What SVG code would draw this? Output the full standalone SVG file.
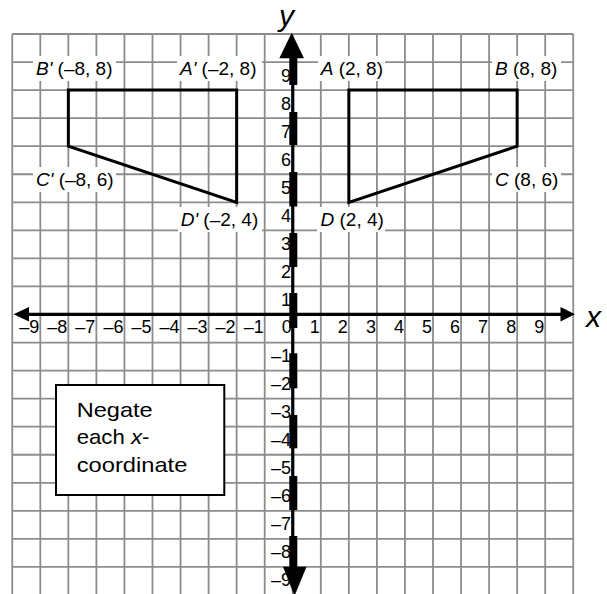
<svg xmlns="http://www.w3.org/2000/svg" width="607" height="594" viewBox="0 0 607 594">
<style>
.grid line{stroke:#8c8c8c;stroke-width:1.8}
.lbl{font-family:"Liberation Sans",Arial,sans-serif;font-size:19px;fill:#000}
.num{font-family:"Liberation Sans",Arial,sans-serif;font-size:18px;fill:#000}
.it{font-style:italic}
.bg{fill:#fff;stroke:none}
.shape{fill:none;stroke:#000;stroke-width:3;stroke-linejoin:miter}
.axis{stroke:#000;stroke-width:3.2}
.bar{fill:#000}
.ax{font-family:"Liberation Sans",Arial,sans-serif;font-size:30px;font-style:italic;fill:#000}
.box{font-family:"Liberation Sans",Arial,sans-serif;font-size:21px;fill:#000}
</style>
<rect width="607" height="594" fill="#fff"/>
<g id="grid" class="grid">
<line x1="12.25" y1="34" x2="12.25" y2="594"/>
<line x1="40.3" y1="34" x2="40.3" y2="594"/>
<line x1="68.35" y1="34" x2="68.35" y2="594"/>
<line x1="96.4" y1="34" x2="96.4" y2="594"/>
<line x1="124.45" y1="34" x2="124.45" y2="594"/>
<line x1="152.5" y1="34" x2="152.5" y2="594"/>
<line x1="180.55" y1="34" x2="180.55" y2="594"/>
<line x1="208.6" y1="34" x2="208.6" y2="594"/>
<line x1="236.65" y1="34" x2="236.65" y2="594"/>
<line x1="264.7" y1="34" x2="264.7" y2="594"/>
<line x1="292.75" y1="34" x2="292.75" y2="594"/>
<line x1="320.8" y1="34" x2="320.8" y2="594"/>
<line x1="348.85" y1="34" x2="348.85" y2="594"/>
<line x1="376.9" y1="34" x2="376.9" y2="594"/>
<line x1="404.95" y1="34" x2="404.95" y2="594"/>
<line x1="433" y1="34" x2="433" y2="594"/>
<line x1="461.05" y1="34" x2="461.05" y2="594"/>
<line x1="489.1" y1="34" x2="489.1" y2="594"/>
<line x1="517.15" y1="34" x2="517.15" y2="594"/>
<line x1="545.2" y1="34" x2="545.2" y2="594"/>
<line x1="573.25" y1="34" x2="573.25" y2="594"/>
<line x1="12.25" y1="34" x2="573.25" y2="34"/>
<line x1="12.25" y1="62.05" x2="573.25" y2="62.05"/>
<line x1="12.25" y1="90.1" x2="573.25" y2="90.1"/>
<line x1="12.25" y1="118.15" x2="573.25" y2="118.15"/>
<line x1="12.25" y1="146.2" x2="573.25" y2="146.2"/>
<line x1="12.25" y1="174.25" x2="573.25" y2="174.25"/>
<line x1="12.25" y1="202.3" x2="573.25" y2="202.3"/>
<line x1="12.25" y1="230.35" x2="573.25" y2="230.35"/>
<line x1="12.25" y1="258.4" x2="573.25" y2="258.4"/>
<line x1="12.25" y1="286.45" x2="573.25" y2="286.45"/>
<line x1="12.25" y1="342.55" x2="573.25" y2="342.55"/>
<line x1="12.25" y1="370.6" x2="573.25" y2="370.6"/>
<line x1="12.25" y1="398.65" x2="573.25" y2="398.65"/>
<line x1="12.25" y1="426.7" x2="573.25" y2="426.7"/>
<line x1="12.25" y1="454.75" x2="573.25" y2="454.75"/>
<line x1="12.25" y1="482.8" x2="573.25" y2="482.8"/>
<line x1="12.25" y1="510.85" x2="573.25" y2="510.85"/>
<line x1="12.25" y1="538.9" x2="573.25" y2="538.9"/>
<line x1="12.25" y1="566.95" x2="573.25" y2="566.95"/>
</g>
<g id="shape-image">
<polygon class="shape" points="68.35,90.1 236.65,90.1 236.65,202.3 68.35,146.2"/>
</g>
<g id="shape-original">
<polygon class="shape" points="348.85,90.1 517.15,90.1 517.15,146.2 348.85,202.3"/>
</g>
<g id="label-Bp"><rect class="bg" x="33" y="56" width="83" height="25"/><text class="lbl" x="36" y="75.3"><tspan class="it">B'</tspan> (–8, 8)</text></g>
<g id="label-Ap"><rect class="bg" x="177" y="56" width="85" height="25"/><text class="lbl" x="180" y="75.3"><tspan class="it">A'</tspan> (–2, 8)</text></g>
<g id="label-A"><rect class="bg" x="318" y="56" width="67" height="25"/><text class="lbl" x="320.7" y="75.3"><tspan class="it">A</tspan> (2, 8)</text></g>
<g id="label-B"><rect class="bg" x="492" y="56" width="69" height="25"/><text class="lbl" x="495" y="75.3"><tspan class="it">B</tspan> (8, 8)</text></g>
<g id="label-Cp"><rect class="bg" x="33" y="167" width="83" height="25"/><text class="lbl" x="36" y="186"><tspan class="it">C'</tspan> (–8, 6)</text></g>
<g id="label-C"><rect class="bg" x="492" y="167" width="69" height="25"/><text class="lbl" x="495" y="186"><tspan class="it">C</tspan> (8, 6)</text></g>
<g id="label-Dp"><rect class="bg" x="178" y="207" width="84" height="25"/><text class="lbl" x="180.7" y="226"><tspan class="it">D'</tspan> (–2, 4)</text></g>
<g id="label-D"><rect class="bg" x="317" y="207" width="68" height="25"/><text class="lbl" x="320.5" y="226"><tspan class="it">D</tspan> (2, 4)</text></g>
<g id="x-numbers" class="num" text-anchor="end">
<text x="39.3" y="333.3">–9</text>
<text x="67.35" y="333.3">–8</text>
<text x="95.4" y="333.3">–7</text>
<text x="123.45" y="333.3">–6</text>
<text x="151.5" y="333.3">–5</text>
<text x="179.55" y="333.3">–4</text>
<text x="207.6" y="333.3">–3</text>
<text x="235.65" y="333.3">–2</text>
<text x="263.7" y="333.3">–1</text>
<text x="291.75" y="333.3">0</text>
<text x="319.8" y="333.3">1</text>
<text x="347.85" y="333.3">2</text>
<text x="375.9" y="333.3">3</text>
<text x="403.95" y="333.3">4</text>
<text x="432" y="333.3">5</text>
<text x="460.05" y="333.3">6</text>
<text x="488.1" y="333.3">7</text>
<text x="516.15" y="333.3">8</text>
<text x="544.2" y="333.3">9</text>
</g>
<g id="y-numbers" class="num" text-anchor="end">
<text x="291" y="81.55">9</text>
<text x="291" y="109.6">8</text>
<text x="291" y="137.65">7</text>
<text x="291" y="165.7">6</text>
<text x="291" y="193.75">5</text>
<text x="291" y="221.8">4</text>
<text x="291" y="249.85">3</text>
<text x="291" y="277.9">2</text>
<text x="291" y="305.95">1</text>
<text x="291" y="361.55">–1</text>
<text x="291" y="389.6">–2</text>
<text x="291" y="417.65">–3</text>
<text x="291" y="445.7">–4</text>
<text x="291" y="473.75">–5</text>
<text x="291" y="501.8">–6</text>
<text x="291" y="529.85">–7</text>
<text x="291" y="557.9">–8</text>
<text x="291" y="585.95">–9</text>
</g>
<g id="connectors">
<g id="x-axis">
<line class="axis" x1="26" y1="314.3" x2="562" y2="314.3"/>
<polygon points="13.5,314.3 29,307 29,321.6"/>
<polygon points="575,314.3 560.5,307 560.5,321.6"/>
</g>
<g id="y-axis">
<line class="axis" x1="292.75" y1="50" x2="292.75" y2="570"/>
<rect class="bar" x="289.3" y="51.5" width="8" height="33.5"/>
<rect class="bar" x="289.3" y="112" width="8" height="33"/>
<rect class="bar" x="289.3" y="172" width="8" height="34.5"/>
<rect class="bar" x="289.3" y="233" width="8" height="34"/>
<rect class="bar" x="289.3" y="293" width="8" height="35"/>
<rect class="bar" x="289.3" y="353.3" width="8" height="35"/>
<rect class="bar" x="289.3" y="415" width="8" height="33.3"/>
<rect class="bar" x="289.3" y="476" width="8" height="34"/>
<rect class="bar" x="289.3" y="536" width="8" height="31"/>
<polygon points="291.7,32.7 279.3,58.3 304,58.3"/>
<polygon points="294.5,596 283,566.7 306.5,566.7"/>
</g>
</g>
<text id="x-label" class="ax" x="586" y="326.7">x</text>
<text id="y-label" class="ax" x="279" y="26">y</text>
<g id="note">
<rect x="56" y="385" width="168.3" height="110" fill="#fff" stroke="#000" stroke-width="2"/>
<text class="box" x="76.7" y="416.7" textLength="76" lengthAdjust="spacingAndGlyphs">Negate</text>
<text class="box" x="76.7" y="444" textLength="72.7" lengthAdjust="spacingAndGlyphs">each <tspan class="it">x</tspan>-</text>
<text class="box" x="76.7" y="471.7" textLength="110.7" lengthAdjust="spacingAndGlyphs">coordinate</text>
</g>
</svg>
